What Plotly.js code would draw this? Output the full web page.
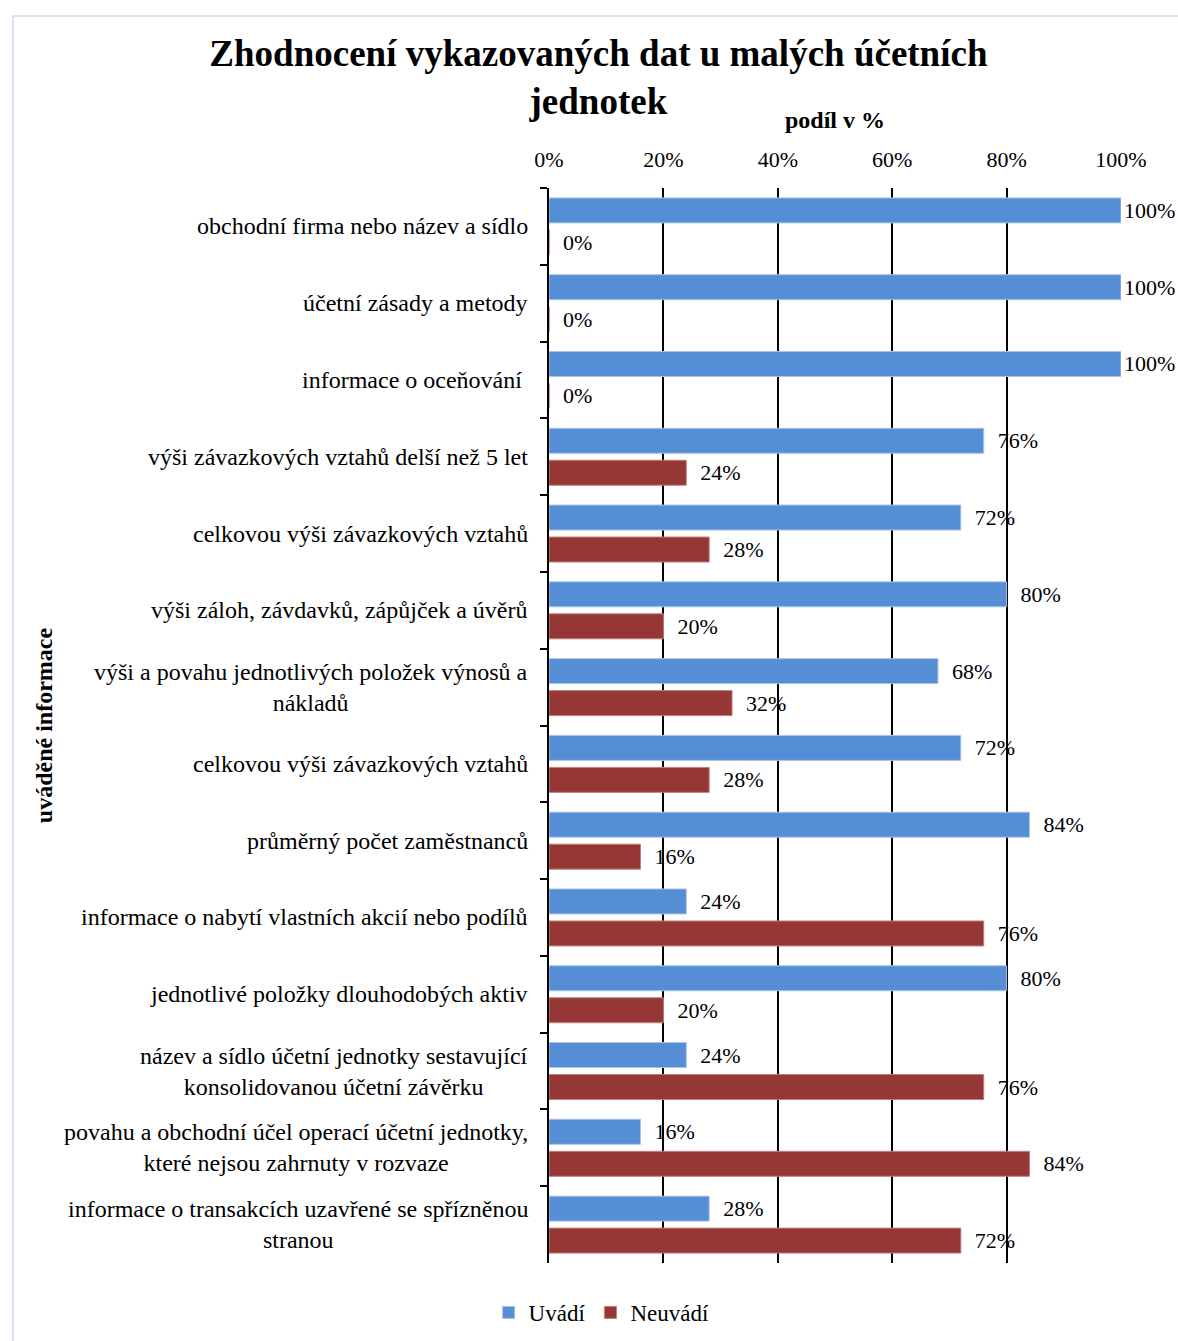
<!DOCTYPE html>
<html>
<head>
<meta charset="utf-8">
<script src="https://cdn.plot.ly/plotly-3.0.1.min.js"></script>
<style>
  html, body { margin: 0; padding: 0; background: #ffffff; }
  #wrap { position: relative; width: 1178px; height: 1341px; overflow: hidden; }
  #frame { position: absolute; left: 12px; top: 15px; width: 1200px; height: 1400px;
           border-left: 2px solid #d6e3f2; border-top: 2px solid #d6e3f2; pointer-events: none; }
  #chart { position: absolute; left: 0; top: 0; width: 1178px; height: 1341px; }
</style>
</head>
<body>
<div id="wrap">
  <div id="frame"></div>
  <div id="chart"></div>
</div>
<script>
const categories = [
  "obchodní firma nebo název a sídlo",
  "účetní zásady a metody",
  "informace o oceňování\u00a0",
  "výši závazkových vztahů delší než 5 let",
  "celkovou výši závazkových vztahů",
  "výši záloh, závdavků, zápůjček a úvěrů",
  "výši a povahu jednotlivých položek výnosů a<br>nákladů",
  "celkovou výši závazkových vztahů",
  "průměrný počet zaměstnanců",
  "informace o nabytí vlastních akcií nebo podílů",
  "jednotlivé položky dlouhodobých aktiv",
  "název a sídlo účetní jednotky sestavující<br>konsolidovanou účetní závěrku",
  "povahu a obchodní účel operací účetní jednotky,<br>které nejsou zahrnuty v rozvaze",
  "informace o transakcích uzavřené se spřízněnou<br>stranou"
];
const uvadi   = [100, 100, 100, 76, 72, 80, 68, 72, 84, 24, 80, 24, 16, 28];
const neuvadi = [0, 0, 0, 24, 28, 20, 32, 28, 16, 76, 20, 76, 84, 72];
const xTickVals = [0, 20, 40, 60, 80, 100];
const xTickText = ["0%", "20%", "40%", "60%", "80%", "100%"];
const titleText = "Zhodnocení vykazovaných dat u malých účetních<br>jednotek";
const xTitle = "podíl v %";
const yTitle = "uváděné informace";
const seriesNames = ["Uvádí", "Neuvádí"];

// unique category keys (two categories share the same label)
const keys = categories.map((c, i) => "k" + i);

const serif = "Liberation Serif, Times New Roman, serif";

function labelTexts(vals) { return vals.map(v => v + "%"); }
function labelTemplates(vals) { return vals.map(v => (v >= 100 ? "%{text}" : "\u00a0\u00a0%{text}")); }

const traces = [
  {
    type: "bar", orientation: "h", name: seriesNames[0],
    x: uvadi, y: keys,
    marker: { color: "#558ed5", line: { color: "#a9c4e8", width: 1 } },
    text: labelTexts(uvadi), texttemplate: labelTemplates(uvadi), textposition: "outside",
    textfont: { family: serif, size: 22, color: "#000" },
    constraintext: "none", cliponaxis: false, hoverinfo: "skip"
  },
  {
    type: "bar", orientation: "h", name: seriesNames[1],
    x: neuvadi, y: keys,
    marker: { color: "#953735", line: { color: "#c27e7c", width: 1 } },
    text: labelTexts(neuvadi), texttemplate: labelTemplates(neuvadi), textposition: "outside",
    textfont: { family: serif, size: 22, color: "#000" },
    constraintext: "none", cliponaxis: false, hoverinfo: "skip"
  }
];

const labelAnnotations = categories.map((c, i) => ({
  text: c, xref: "paper", x: 0, xanchor: "right", xshift: -19,
  yref: "y", y: keys[i], yanchor: "middle", align: "center",
  showarrow: false, font: { family: serif, size: 24, color: "#000" }
}));

const layout = {
  width: 1178, height: 1341,
  paper_bgcolor: "rgba(0,0,0,0)", plot_bgcolor: "rgba(0,0,0,0)",
  margin: { l: 549, r: 57, t: 188, b: 78, autoexpand: false },
  font: { family: serif, size: 22, color: "#000" },
  title: {
    text: titleText, x: 0.508, xanchor: "center", xref: "container",
    y: 0.951, yanchor: "top", yref: "container",
    font: { family: serif, size: 37, color: "#000", weight: "bold" }
  },
  barmode: "group", bargap: 0.167, bargroupgap: 0.219,
  xaxis: {
    side: "top", range: [0, 100], tickvals: xTickVals, ticktext: xTickText,
    showgrid: true, gridcolor: "#000", gridwidth: 2, zeroline: false, showline: false,
    ticks: "", ticklabelstandoff: 16, automargin: false,
    tickfont: { family: serif, size: 22, color: "#000" },
    title: { text: xTitle, standoff: 11, font: { family: serif, size: 24, color: "#000", weight: "bold" } },
    fixedrange: true
  },
  yaxis: {
    type: "category", autorange: "reversed", showticklabels: false, automargin: false,
    showline: true, linecolor: "#000", linewidth: 2,
    ticks: "outside", tickson: "boundaries", ticklen: 7, tickwidth: 2, tickcolor: "#000",
    showgrid: false, zeroline: false,
    title: { text: yTitle, standoff: 488, font: { family: serif, size: 24, color: "#000", weight: "bold" } },
    fixedrange: true
  },
  showlegend: true,
  legend: {
    orientation: "h", x: 0.092, xanchor: "center", y: -0.046, yanchor: "middle",
    font: { family: serif, size: 23, color: "#000" }, bgcolor: "rgba(0,0,0,0)"
  },
  annotations: labelAnnotations
};

Plotly.newPlot("chart", traces, layout, { displayModeBar: false, staticPlot: true });
</script>
</body>
</html>
